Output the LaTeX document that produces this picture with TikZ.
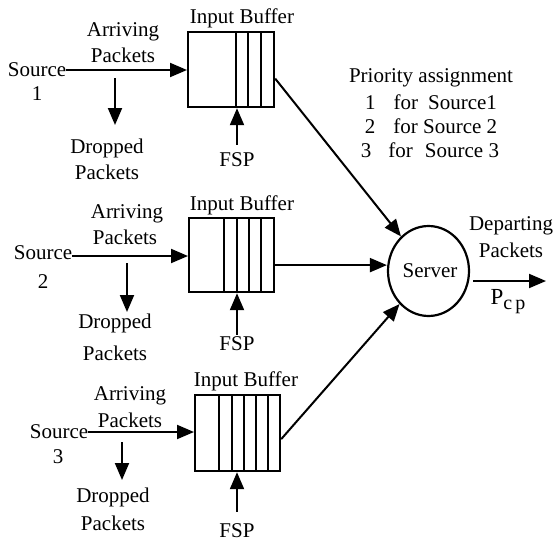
\documentclass[tikz,border=0pt]{standalone}
\usepackage{fontspec}
\setmainfont{Liberation Serif}
\usetikzlibrary{arrows.meta,shapes.geometric}
\begin{document}
\begin{tikzpicture}[x=1pt,y=-1pt,
  lbl/.style={inner sep=0pt,font=\fontsize{21}{24}\selectfont},
  flow/.style={line width=2pt,-{Triangle[length=17pt,width=14pt]}},
  buf/.style={draw,line width=2.2pt,inner sep=0pt,anchor=north west},
  sep/.style={line width=2.2pt}]
\useasboundingbox (0,0) rectangle (554,541);

% ---- queues with their slot dividers ----
\node[buf,minimum width=86pt,minimum height=75pt] (b1) at (187,31) {};
\foreach \dx in {49,61,74}
  \draw[sep] ([xshift=\dx pt]b1.north west) -- ([xshift=\dx pt]b1.south west);
\node[buf,minimum width=85pt,minimum height=74pt] (b2) at (188,217) {};
\foreach \dx in {36,49,61,73}
  \draw[sep] ([xshift=\dx pt]b2.north west) -- ([xshift=\dx pt]b2.south west);
\node[buf,minimum width=85pt,minimum height=76pt] (b3) at (194,394) {};
\foreach \dx in {25,38,50,62,74}
  \draw[sep] ([xshift=\dx pt]b3.north west) -- ([xshift=\dx pt]b3.south west);

\node[lbl] (ib1) at (242,18) {Input Buffer};
\node[lbl] (ib2) at (242,205) {Input Buffer};
\node[lbl] (ib3) at (246,381) {Input Buffer};

% ---- server ----
\node[draw,ellipse,line width=2.2pt,minimum width=81pt,minimum height=90pt,inner sep=0pt]
  (server) at (428.5,271) {};
\node[lbl] (srvtxt) at (430,271) {Server};

% ---- source 1 ----
\node[lbl] (s1) at (37,70) {Source};
\node[lbl] (s1n) at (37,94) {1};
\node[lbl] (a1) at (123,32) {Arriving};
\node[lbl] (a1b) at (123,55) {Packets};
\node[lbl] (d1) at (107,148) {Dropped};
\node[lbl] (d1b) at (107,172) {Packets};
\node[lbl] (f1) at (237,160) {FSP};
\coordinate (d1top) at (115,78);
\coordinate (d1end) at (115,125);
\draw[flow] (s1.east) -- (s1.east -| b1.west);
\draw[flow] (d1top) -- (d1end);
\draw[flow] ([yshift=8pt]f1.north) -- (f1.north |- b1.south);

% ---- source 2 ----
\node[lbl] (s2) at (43,253) {Source};
\node[lbl] (s2n) at (43,282) {2};
\node[lbl] (a2) at (127,214) {Arriving};
\node[lbl] (a2b) at (125,237) {Packets};
\node[lbl] (d2) at (115,323) {Dropped};
\node[lbl] (d2b) at (115,353) {Packets};
\node[lbl] (f2) at (237,344) {FSP};
\coordinate (d2top) at (127,263);
\coordinate (d2end) at (127,312);
\draw[flow] ([yshift=-3pt]s2.east) -- ([yshift=-3pt]s2.east -| b2.west);
\draw[flow] (d2top) -- (d2end);
\draw[flow] ([yshift=2pt]f2.north) -- (f2.north |- b2.south);

% ---- source 3 ----
\node[lbl] (s3) at (59,432) {Source};
\node[lbl] (s3n) at (58,457) {3};
\node[lbl] (a3) at (130,396) {Arriving};
\node[lbl] (a3b) at (130,420) {Packets};
\node[lbl] (d3) at (113,497) {Dropped};
\node[lbl] (d3b) at (113,523) {Packets};
\node[lbl] (f3) at (237,531) {FSP};
\coordinate (d3top) at (122,442);
\coordinate (d3end) at (122,480);
\draw[flow] (s3.east) -- (s3.east -| b3.west);
\draw[flow] (d3top) -- (d3end);
\draw[flow] ([yshift=12pt]f3.north) -- (f3.north |- b3.south);

% ---- queues to server ----
\draw[flow] ([yshift=-9pt]b1.east) -- (server);
\draw[flow] ([yshift=-10pt]b2.east) -- ([yshift=-10pt]b2.east -| server.west);
\draw[flow] ([yshift=-6pt]b3.east) -- (server);

% ---- priority table ----
\node[lbl] (p0) at (431,78) {Priority assignment};
\node[lbl] (p1) at (431,102) {1\hspace{18pt}for\hspace{10pt}Source1};
\node[lbl] (p2) at (431,126) {2\hspace{18pt}for Source 2};
\node[lbl] (p3) at (430,150) {3\hspace{17pt}for\hspace{12pt}Source 3};

% ---- output ----
\node[lbl] (dep) at (511,226) {Departing};
\node[lbl] (depb) at (511,250) {Packets};
\coordinate (out) at (546,281);
\draw[flow,shorten <=3pt] (server.east |- out) -- (out);
\node[lbl,font=\fontsize{23}{24}\selectfont] (pcp) at (508,302) {P\raisebox{-5pt}{\fontsize{20}{20}\selectfont c\,p}};
\end{tikzpicture}
\end{document}
